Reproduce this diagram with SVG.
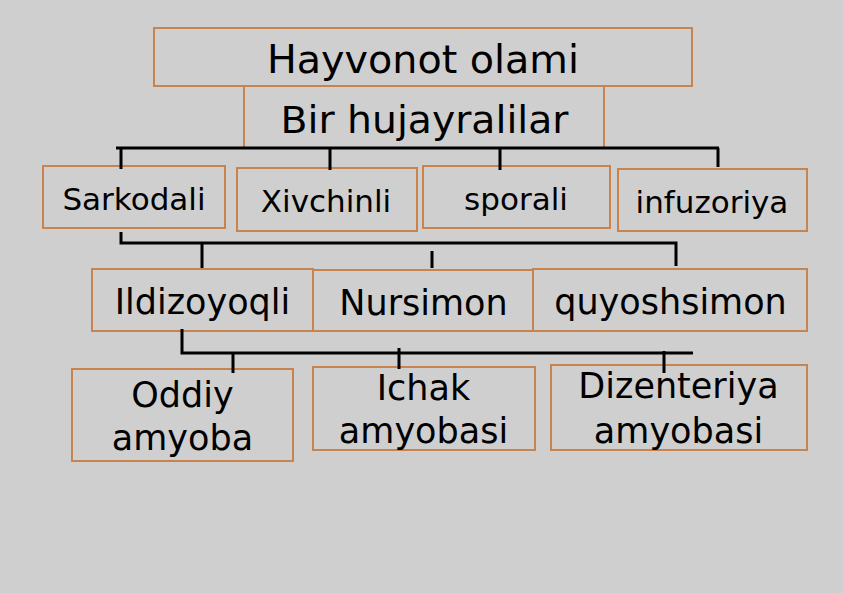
<svg xmlns="http://www.w3.org/2000/svg" width="843" height="593" viewBox="0 0 843 593">
<style>
.box{fill:none;stroke:#c8834f;stroke-width:2}
.t{font-family:"DejaVu Sans",sans-serif;fill:#000;text-anchor:middle}
.c{stroke:#000;stroke-width:3;fill:none}
</style>
<rect width="843" height="593" fill="#cfcfcf"/>
<g id="n-hayvonot"><rect class="box" x="154" y="28" width="538" height="58"/><text class="t" x="423" y="73" font-size="39" textLength="312" lengthAdjust="spacingAndGlyphs">Hayvonot olami</text></g>
<g id="n-bir"><rect class="box" x="244" y="86" width="360" height="62"/><text class="t" x="424.5" y="133" font-size="37" textLength="288" lengthAdjust="spacingAndGlyphs">Bir hujayralilar</text></g>
<g id="n-sarkodali"><rect class="box" x="43" y="166" width="182" height="62"/><text class="t" x="134" y="210" font-size="31">Sarkodali</text></g>
<g id="n-xivchinli"><rect class="box" x="237" y="168" width="180" height="63"/><text class="t" x="326" y="212" font-size="31">Xivchinli</text></g>
<g id="n-sporali"><rect class="box" x="423" y="166" width="187" height="62"/><text class="t" x="516" y="210" font-size="31">sporali</text></g>
<g id="n-infuzoriya"><rect class="box" x="618" y="169" width="189" height="62"/><text class="t" x="712" y="213" font-size="31">infuzoriya</text></g>
<g id="n-ildizoyoqli"><rect class="box" x="92" y="269" width="221" height="62"/><text class="t" x="202.5" y="314" font-size="35">Ildizoyoqli</text></g>
<g id="n-nursimon"><rect class="box" x="313" y="270" width="220" height="61"/><text class="t" x="423.5" y="315" font-size="35">Nursimon</text></g>
<g id="n-quyoshsimon"><rect class="box" x="533" y="269" width="274" height="62"/><text class="t" x="670.5" y="314" font-size="35">quyoshsimon</text></g>
<g id="n-oddiy"><rect class="box" x="72" y="369" width="221" height="92"/><text class="t" x="182.5" y="407" font-size="35">Oddiy</text><text class="t" x="182.5" y="450" font-size="35">amyoba</text></g>
<g id="n-ichak"><rect class="box" x="313" y="367" width="222" height="83"/><text class="t" x="423.5" y="400" font-size="35">Ichak</text><text class="t" x="423.5" y="443" font-size="35">amyobasi</text></g>
<g id="n-dizenteriya"><rect class="box" x="551" y="365" width="256" height="85"/><text class="t" x="678.5" y="398" font-size="35">Dizenteriya</text><text class="t" x="678.5" y="443" font-size="35">amyobasi</text></g>
<g id="connectors">
<path class="c" d="M116 148H719M121 148V169M330 148V170M500 148V170M718 148V167"/>
<path class="c" d="M121 232V243H676V266M202 243V268M432 251V268"/>
<path class="c" d="M182 329V353H693M233 352V373M399 348V369M664 351V373"/>
</g>
</svg>
